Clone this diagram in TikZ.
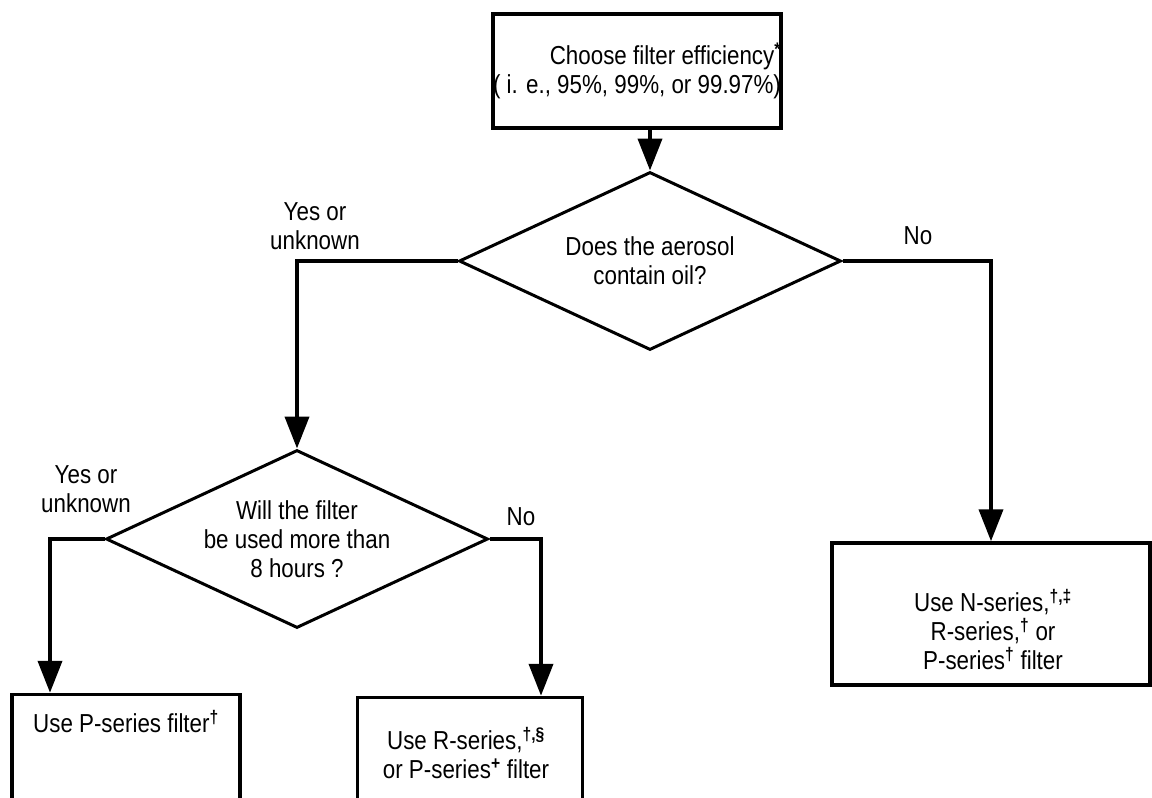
\documentclass[tikz,border=0pt]{standalone}
\usepackage{fontspec}
\setmainfont{Liberation Sans}[FakeStretch=0.86]
\usetikzlibrary{shapes.geometric,arrows.meta,positioning}
\newcommand{\sups}[1]{\textsuperscript{\bfseries #1}}

\begin{document}
\begin{tikzpicture}[x=1pt,y=-1pt,
    font=\fontsize{26}{29}\selectfont,
    box/.style={draw,line width=3.5pt,inner sep=0pt},
    decide/.style={draw,diamond,line width=3pt,minimum width=382pt,minimum height=178pt,
      shape aspect=2.15,inner sep=0pt,align=center},
    flow/.style={line width=4pt,-{Triangle[width=24pt,length=32pt]}},
    txt/.style={align=center,inner sep=0pt}]
  \clip (0,0) rectangle (1152,798);
  \node[box,minimum width=288pt,minimum height=114pt,align=right] (choose) at (637,71)
    {Choose filter efficiency\sups{*}\\( i. e., 95\%, 99\%, or 99.97\%)};
  \node[decide] (oil) at (650,261) {Does the aerosol\\contain oil?};
  \node[decide] (hours) at (297,539) {Will the filter\\be used more than\\8 hours ?};
  \node[box,minimum width=318pt,minimum height=142pt] (nbox) at (991,614) {};
  \node[box,minimum width=228pt,minimum height=135pt] (pbox) at (126,762) {};
  \node[box,minimum width=225pt,minimum height=135pt] (rbox) at (470,765) {};
  \node[txt] (ntext) at (993,630) {Use N-series,\sups{†,‡}\\R-series,\sups{†} or\\P-series\sups{†} filter};
  \node[txt] (ptext) at (126,722) {Use P-series filter\sups{†}};
  \node[txt] (rtext) at (466,753) {Use R-series,\sups{†,§}\\or P-series\sups{+} filter};
  \node[txt] (yes1) at (315,226) {Yes or\\unknown};
  \node[txt] (no1) at (918,236) {No};
  \node[txt] (yes2) at (86,489) {Yes or\\unknown};
  \node[txt] (no2) at (521,517) {No};
  \draw[flow] (oil.north |- choose.south) -- (oil.north);
  \draw[flow] (oil.west) -| (hours.north);
  \draw[flow] (oil.east) -| (nbox.north);
  \draw[flow] (hours.west) -| ([xshift=-76pt]pbox.north);
  \draw[flow] (hours.east) -| ([xshift=71pt]rbox.north);
\end{tikzpicture}
\end{document}
